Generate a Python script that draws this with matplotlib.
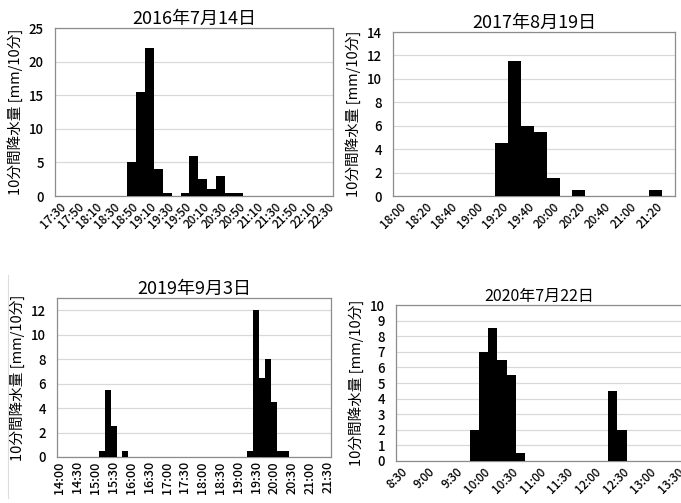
import matplotlib
matplotlib.use("Agg")
import matplotlib.pyplot as plt
from matplotlib.lines import Line2D

plt.rcParams['font.family'] = ['Noto Sans CJK JP', 'DejaVu Sans']
plt.rcParams['font.weight'] = 'medium'


def times(h, m, n):
    out = []
    t = h * 60 + m
    for i in range(n):
        out.append("%d:%02d" % ((t + 10 * i) // 60, (t + 10 * i) % 60))
    return out


# 2016-07-14, 17:30 - 22:30 every 10 min
t1 = times(17, 30, 31)
r1 = [0, 0, 0, 0, 0, 0, 0, 0, 5, 15.5, 22, 4, 0.5, 0, 0.5, 6, 2.5, 1, 3, 0.5, 0.5,
      0, 0, 0, 0, 0, 0, 0, 0, 0, 0]

# 2017-08-19, 18:00 - 21:30
t2 = times(18, 0, 22)
r2 = [0, 0, 0, 0, 0, 0, 0, 0, 4.5, 11.5, 6, 5.5, 1.5, 0, 0.5, 0, 0, 0, 0, 0, 0.5, 0]

# 2019-09-03, 14:00 - 21:30
t3 = times(14, 0, 46)
r3 = [0, 0, 0, 0, 0, 0, 0, 0.5, 5.5, 2.5, 0, 0.5,
      0, 0, 0, 0, 0, 0, 0, 0, 0, 0, 0, 0, 0, 0, 0, 0, 0, 0, 0, 0,
      0.5, 12, 6.5, 8, 4.5, 0.5, 0.5, 0, 0, 0, 0, 0, 0, 0]

# 2020-07-22, 8:30 - 13:30
t4 = times(8, 30, 31)
r4 = [0, 0, 0, 0, 0, 0, 0, 0, 2, 7, 8.5, 6.5, 5.5, 0.5,
      0, 0, 0, 0, 0, 0, 0, 0, 0, 4.5, 2, 0, 0, 0, 0, 0, 0]

panels = [
    ("2016年7月14日", t1, r1, 2, 25, 5, 45, [0.0808, 0.6103, 0.408, 0.334], 13),
    ("2017年8月19日", t2, r2, 2, 14, 2, 45, [0.577, 0.6103, 0.414, 0.326], 13),
    ("2019年9月3日", t3, r3, 3, 13, 2, 90, [0.0837, 0.0915, 0.402, 0.316], 13),
    ("2020年7月22日", t4, r4, 3, 10, 1, 45, [0.5815, 0.0835, 0.42, 0.310], 11.5),
]

fig = plt.figure(figsize=(6.81, 5.03), dpi=100)

for title, cats, vals, step, ymax, ystep, rot, pos, tsize in panels:
    ax = fig.add_axes(pos)
    x = list(range(len(cats)))
    ax.bar(x, vals, width=1.0, color='black', linewidth=0, zorder=3)
    ax.set_xlim(-0.5, len(cats) - 0.5)
    ax.set_ylim(0, ymax)
    ax.set_yticks(range(0, ymax + 1 if ymax % ystep == 0 else ymax, ystep))
    ax.set_xticks(x[::step])
    if rot == 90:
        ax.set_xticklabels(cats[::step], rotation=90, fontsize=9)
    else:
        ax.set_xticklabels(cats[::step], rotation=45, ha='right',
                           rotation_mode='anchor', fontsize=8.5)
    ax.tick_params(axis='y', length=0, pad=8, labelsize=9.5)
    ax.tick_params(axis='x', length=0, pad=3)
    ax.grid(axis='y', color='#d9d9d9', linewidth=0.9, zorder=0)
    for s in ax.spines.values():
        s.set_color('#8c8c8c')
        s.set_linewidth(0.9)
    ax.set_title(title, fontsize=tsize, pad=2)
    ax.set_ylabel("10分間降水量 [mm/10分]", fontsize=10.5, labelpad=4)

# faint chart-area border on the lower left panel
fig.add_artist(Line2D([0.012, 0.012], [0.01, 0.453], color='#dddddd', linewidth=0.8))

fig.savefig("out.png", dpi=100)
